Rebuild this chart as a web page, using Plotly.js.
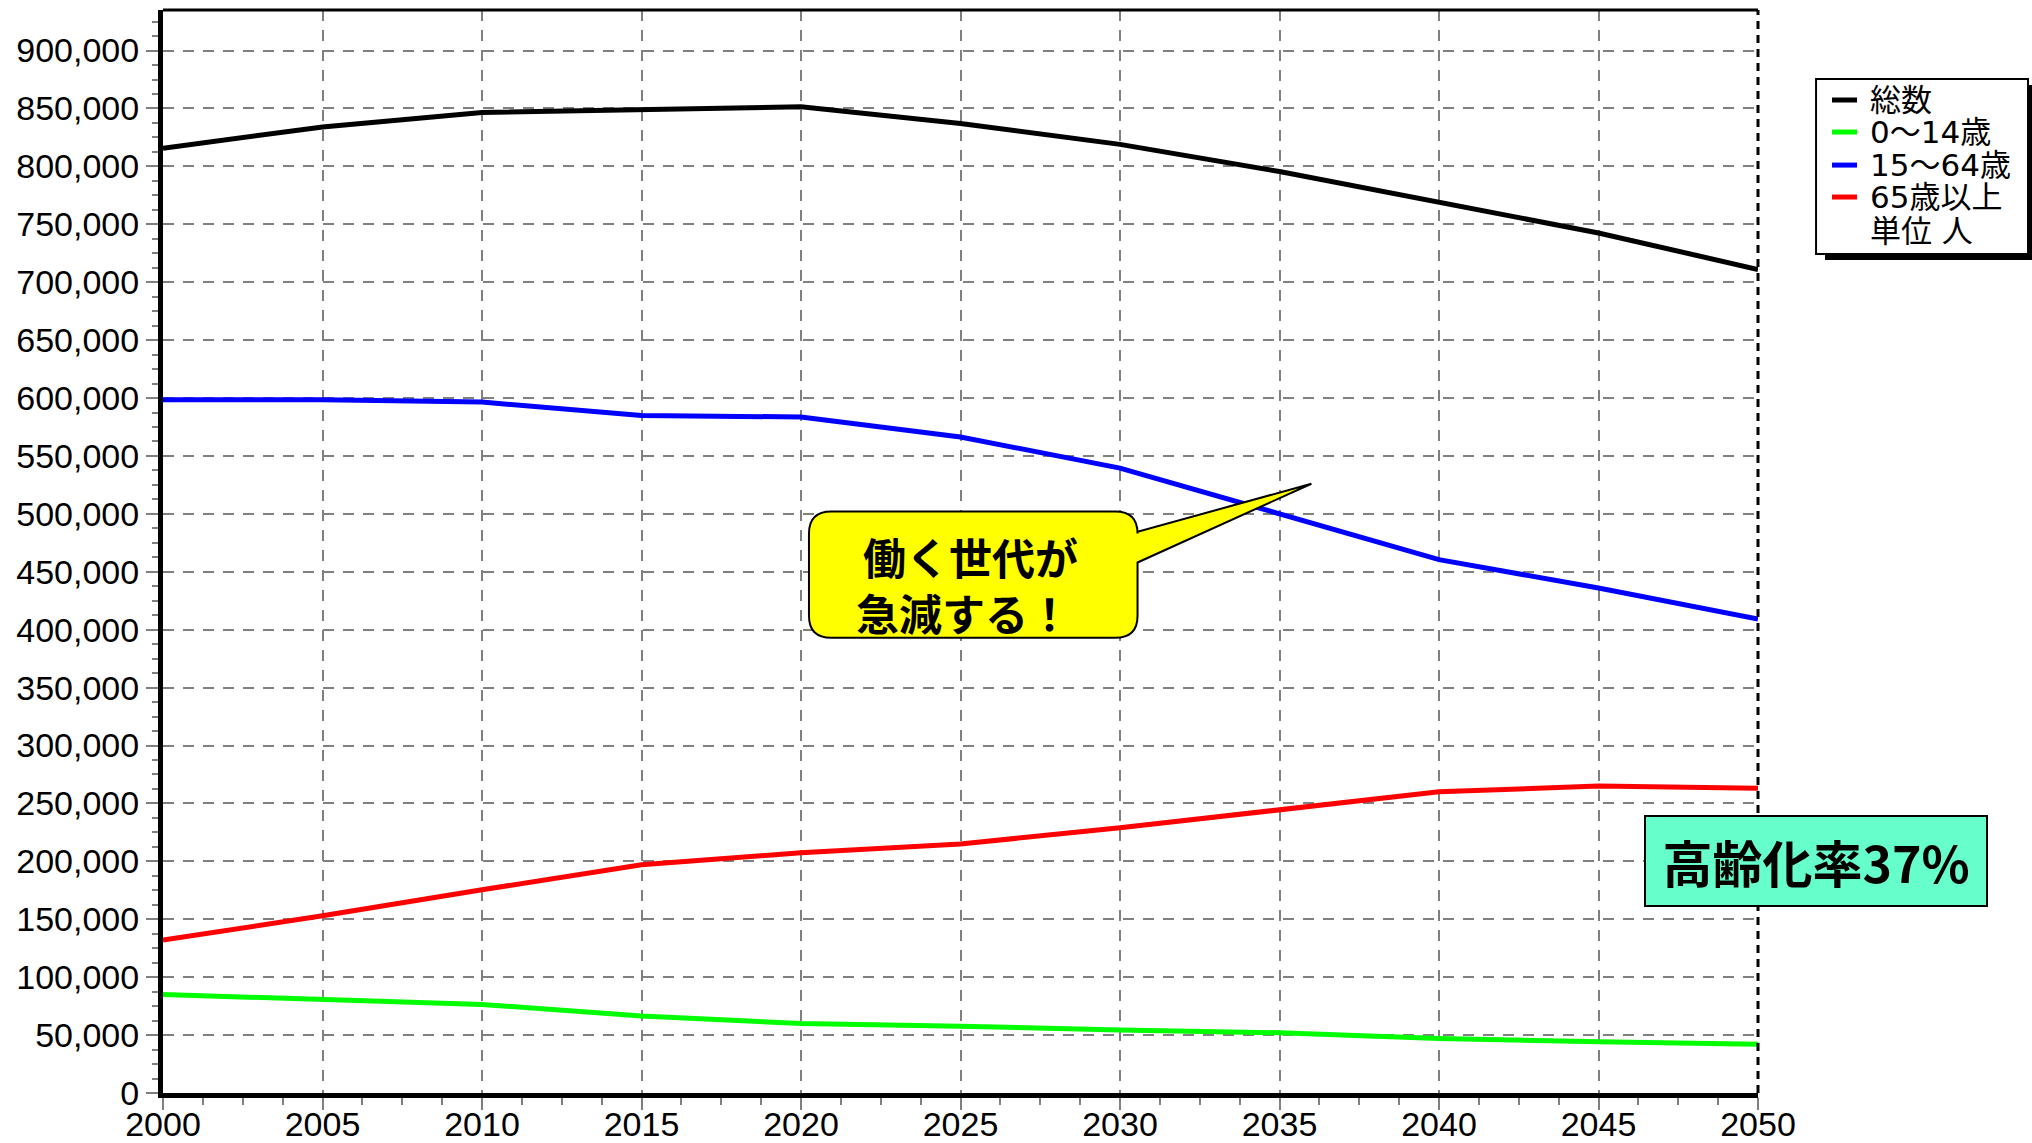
<!DOCTYPE html>
<html>
<head>
<meta charset="utf-8">
<script src="https://cdn.plot.ly/plotly-3.0.1.min.js"></script>
<style>
  html, body { margin: 0; padding: 0; background: #ffffff; }
  #chart { width: 2032px; height: 1143px; }
</style>
</head>
<body>
<div id="chart"></div>
<script>
// Population projection, 2000-2050 (unit: persons)
const years = [2000, 2005, 2010, 2015, 2020, 2025, 2030, 2035, 2040, 2045, 2050];
const total    = [815700, 834000, 846500, 849000, 851500, 837000, 819000, 795500, 769000, 742500, 711000];
const age0to14 = [85000, 81000, 76500, 66500, 60000, 57700, 54300, 52000, 47000, 44300, 42000];
const age15to64 = [598600, 598600, 596500, 585000, 583600, 566400, 539500, 500000, 460500, 436000, 409200];
const age65plus = [132000, 153000, 175500, 197000, 207500, 215000, 229000, 245000, 260000, 265000, 263000];

const seriesNames = ['総数', '0〜14歳', '15〜64歳', '65歳以上'];
const seriesColors = ['#000000', '#00ff00', '#0000ff', '#ff0000'];
const unitLabel = '単位 人';
const calloutText = ['働く世代が', '急減する！'];
const agingRateText = '高齢化率37%';

const seriesValues = [total, age0to14, age15to64, age65plus];

const traces = seriesValues.map((vals, i) => ({
  type: 'scatter',
  mode: 'lines',
  x: years,
  y: vals,
  name: seriesNames[i],
  line: { color: seriesColors[i], width: 5 },
  showlegend: false,
  hoverinfo: 'x+y+name'
}));

const tickFont = { family: 'Liberation Sans, Arial, sans-serif', size: 34, color: '#000000' };
const gridStyle = { gridcolor: '#808080', gridwidth: 2, griddash: '11px,9px' };

// speech bubble outline (rounded box with a pointer), in data units
function bubblePath(b) {
  return [
    'M', b.left + b.rx, b.top,
    'L', b.right - b.rx, b.top,
    'Q', b.right, b.top, b.right, b.top - b.ry,
    'L', b.right, b.baseTop,
    'L', b.tipX, b.tipY,
    'L', b.right, b.baseBottom,
    'L', b.right, b.bottom + b.ry,
    'Q', b.right, b.bottom, b.right - b.rx, b.bottom,
    'L', b.left + b.rx, b.bottom,
    'Q', b.left, b.bottom, b.left, b.bottom + b.ry,
    'L', b.left, b.top - b.ry,
    'Q', b.left, b.top, b.left + b.rx, b.top,
    'Z'
  ].join(' ');
}
const bubble = {
  left: 2020.25, right: 2030.55, top: 502000, bottom: 393000,
  rx: 0.7, ry: 19000,
  baseTop: 484500, baseBottom: 458000,
  tipX: 2036.0, tipY: 526000
};

// legend box, drawn in paper units to the right of the plot
const legendBox = { x0: 1.0364, x1: 1.1693, y0: 0.7747, y1: 0.9363 };
const legendRowY = [0.9169, 0.8873, 0.8568, 0.8273, 0.7959];
const legendSwatch = { x0: 1.0464, x1: 1.0621 };
const legendTextX = 1.0690;

const shapes = [
  // right frame edge (dashed) and top frame edge
  { type: 'line', xref: 'paper', yref: 'paper', x0: 1, x1: 1, y0: 0, y1: 1,
    line: { color: '#000000', width: 3, dash: '8px,6px' } },
  { type: 'line', xref: 'paper', yref: 'paper', x0: 0, x1: 1, y0: 1, y1: 1,
    line: { color: '#000000', width: 3 } },
  // callout bubble
  { type: 'path', xref: 'x', yref: 'y', path: bubblePath(bubble),
    fillcolor: '#ffff00', line: { color: '#000000', width: 2 } },
  // legend shadow + box
  { type: 'rect', xref: 'paper', yref: 'paper',
    x0: legendBox.x0 + 0.0056, x1: legendBox.x1 + 0.0045,
    y0: legendBox.y0 - 0.0055, y1: legendBox.y1 - 0.0055,
    fillcolor: '#000000', line: { width: 0 } },
  { type: 'rect', xref: 'paper', yref: 'paper',
    x0: legendBox.x0, x1: legendBox.x1, y0: legendBox.y0, y1: legendBox.y1,
    fillcolor: '#ffffff', line: { color: '#000000', width: 2 } }
];

seriesNames.forEach((name, i) => {
  shapes.push({ type: 'line', xref: 'paper', yref: 'paper',
    x0: legendSwatch.x0, x1: legendSwatch.x1, y0: legendRowY[i], y1: legendRowY[i],
    line: { color: seriesColors[i], width: 5 } });
});

const legendFont = { family: 'DejaVu Sans, Noto Sans CJK JP, sans-serif', size: 31, color: '#000000' };
const annotations = [];
seriesNames.concat([unitLabel]).forEach((name, i) => {
  annotations.push({ xref: 'paper', yref: 'paper', x: legendTextX, y: legendRowY[i],
    xanchor: 'left', yanchor: 'middle', text: name, showarrow: false, font: legendFont });
});

const calloutFont = { family: 'Noto Sans CJK JP, sans-serif', size: 43, weight: 700, color: '#000000' };
annotations.push({ xref: 'x', yref: 'y', x: 2025.3, y: 464000, text: calloutText[0],
  showarrow: false, xanchor: 'center', yanchor: 'middle', font: calloutFont });
annotations.push({ xref: 'x', yref: 'y', x: 2025.1, y: 415000, text: calloutText[1],
  showarrow: false, xanchor: 'center', yanchor: 'middle', font: calloutFont });

annotations.push({ xref: 'paper', yref: 'paper', x: 1.0364, y: 0.2143,
  xanchor: 'center', yanchor: 'middle', text: agingRateText, showarrow: false,
  font: { family: 'Noto Sans CJK JP, sans-serif', size: 50, weight: 700, color: '#000000' },
  bgcolor: '#66ffcc', bordercolor: '#000000', borderwidth: 2, borderpad: 0,
  width: 340, height: 88 });

const layout = {
  width: 2032,
  height: 1143,
  margin: { l: 163, r: 274, t: 10, b: 50 },
  paper_bgcolor: '#ffffff',
  plot_bgcolor: '#ffffff',
  showlegend: false,
  xaxis: Object.assign({
    range: [2000, 2050],
    tick0: 2000, dtick: 5,
    showgrid: true,
    zeroline: false,
    showline: true, linecolor: '#000000', linewidth: 5,
    ticks: 'outside', ticklen: 12, tickwidth: 2, tickcolor: '#808080',
    tickfont: tickFont,
    ticklabelstandoff: -15,
    minor: { dtick: 1.25, ticks: 'outside', ticklen: 7, tickwidth: 2, tickcolor: '#808080', showgrid: false }
  }, gridStyle),
  yaxis: Object.assign({
    range: [0, 935000],
    tick0: 0, dtick: 50000,
    tickformat: ',d',
    showgrid: true,
    zeroline: false,
    showline: true, linecolor: '#000000', linewidth: 5,
    ticks: 'outside', ticklen: 12, tickwidth: 2, tickcolor: '#808080',
    tickfont: tickFont,
    minor: { dtick: 12500, ticks: 'outside', ticklen: 6, tickwidth: 2, tickcolor: '#808080', showgrid: false }
  }, gridStyle),
  shapes: shapes,
  annotations: annotations
};

Plotly.newPlot('chart', traces, layout, { displayModeBar: false, staticPlot: true });
</script>
</body>
</html>
